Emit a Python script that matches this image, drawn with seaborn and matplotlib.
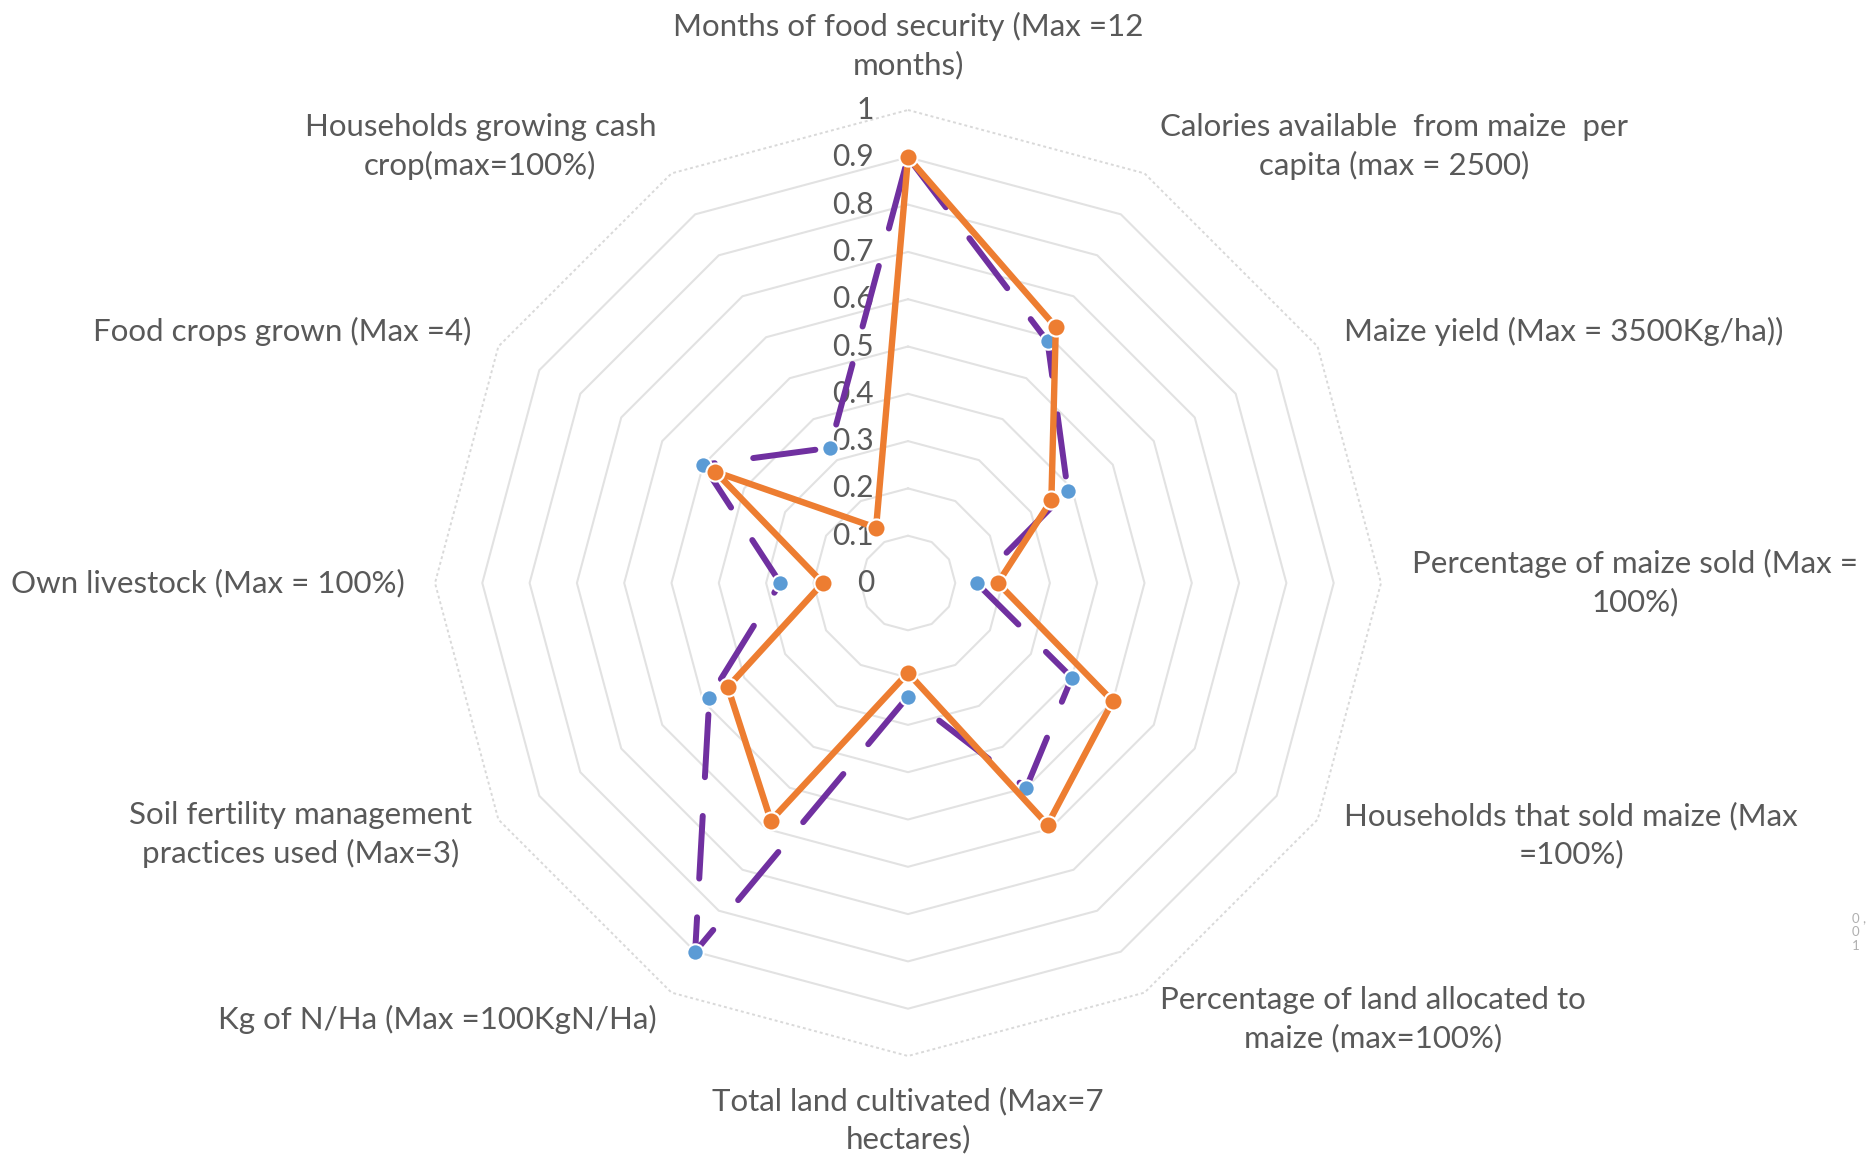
import numpy as np
import pandas as pd
import matplotlib
matplotlib.use('Agg')
import matplotlib.pyplot as plt
import seaborn as sns

# 数据
categories = [
    'Months of food security (Max =12\nmonths)',
    'Calories available  from maize  per\ncapita (max = 2500)',
    'Maize yield (Max = 3500Kg/ha))',
    'Percentage of maize sold (Max =\n100%)',
    'Households that sold maize (Max\n=100%)',
    'Percentage of land allocated to\nmaize (max=100%)',
    'Total land cultivated (Max=7\nhectares)',
    'Kg of N/Ha (Max =100KgN/Ha)',
    'Soil fertility management\npractices used (Max=3)',
    'Own livestock (Max = 100%)',
    'Food crops grown (Max =4)',
    'Households growing cash\ncrop(max=100%)',
]
series_dashed = [0.90, 0.59, 0.39, 0.145, 0.40, 0.50, 0.24, 0.90, 0.485, 0.27, 0.50, 0.33]
series_solid = [0.90, 0.625, 0.35, 0.19, 0.50, 0.59, 0.19, 0.58, 0.44, 0.18, 0.47, 0.135]
ring_values = [0.1, 0.2, 0.3, 0.4, 0.5, 0.6, 0.7, 0.8, 0.9, 1.0]
tick_values = [0, 0.1, 0.2, 0.3, 0.4, 0.5, 0.6, 0.7, 0.8, 0.9, 1.0]
tick_labels = ['0', '0.1', '0.2', '0.3', '0.4', '0.5', '0.6', '0.7', '0.8', '0.9', '1']

sns.set_theme(style='white')
plt.rcParams['font.family'] = ['Lato', 'DejaVu Sans']
text_color = '#595959'

W, H = 1873, 1160
fig = plt.figure(figsize=(W / 100, H / 100), dpi=100)
cx, cy, R = 908, 583, 473
ax = fig.add_axes([(cx - R) / W, (H - cy - R) / H, 2 * R / W, 2 * R / H], projection='polar')
ax.set_theta_zero_location('N')
ax.set_theta_direction(-1)
ax.set_ylim(0, 1)
ax.grid(False)
ax.spines['polar'].set_visible(False)
ax.set_xticks([])
ax.set_yticks([])
ax.patch.set_alpha(0)

n = len(categories)
theta = np.linspace(0, 2 * np.pi, n + 1)

# 网格（十二边形）
for v in ring_values:
    if v < 1.0:
        ax.plot(theta, [v] * (n + 1), color='#e2e2e2', lw=1.5, zorder=1, clip_on=False)
    else:
        ax.plot(theta, [v] * (n + 1), color='#d9d9d9', lw=1.4, ls=(0, (1.5, 1.5)), zorder=1, clip_on=False)

def closed(vals):
    return pd.DataFrame({'theta': theta, 'value': list(vals) + [vals[0]]})

df_a = closed(series_dashed)
df_b = closed(series_solid)

sns.lineplot(data=df_a, x='theta', y='value', sort=False, errorbar=None, ax=ax,
             color='#7030A0', lw=4.3, zorder=3)
line_a = ax.lines[-1]
line_a.set_linestyle((0, (10.5, 6.5)))
line_a.set_dash_capstyle('round')
line_a.set_clip_on(False)
sns.scatterplot(data=df_a.iloc[:-1], x='theta', y='value', ax=ax, color='#5B9BD5',
                s=140, edgecolor='white', linewidth=1.5, zorder=4, clip_on=False)

sns.lineplot(data=df_b, x='theta', y='value', sort=False, errorbar=None, ax=ax,
             color='#ED7D31', lw=4.6, zorder=5)
line_b = ax.lines[-1]
line_b.set_solid_capstyle('round')
line_b.set_solid_joinstyle('round')
line_b.set_clip_on(False)
sns.scatterplot(data=df_b.iloc[:-1], x='theta', y='value', ax=ax, color='#ED7D31',
                s=170, edgecolor='white', linewidth=1.5, zorder=6, clip_on=False)

ax.set_xlabel('')
ax.set_ylabel('')

# 刻度标签
for v, lbl in zip(tick_values, tick_labels):
    ax.annotate(lbl, xy=(0, v), xytext=(-34, 0), textcoords='offset pixels',
                ha='right', va='center', fontsize=21.5, color=text_color, zorder=2)

# 类别标签
for i, lab in enumerate(categories):
    t = theta[i]
    s = np.sin(t)
    if abs(s) < 1e-6:
        ha = 'center'
        va = 'bottom' if np.cos(t) > 0 else 'top'
    else:
        ha = 'left' if s > 0 else 'right'
        va = 'center'
    ax.text(t, 1.065, lab, ha=ha, va=va, multialignment='center',
            fontsize=22.5, color=text_color, linespacing=1.4)

# 右侧残留的小图例文字
fig.text(1852 / W, 1 - 932 / H, '0 ,\n0\n1', fontsize=9.5, color='#b0b0b0',
         ha='left', va='center', linespacing=1.2)

fig.savefig('out.png', dpi=100)
